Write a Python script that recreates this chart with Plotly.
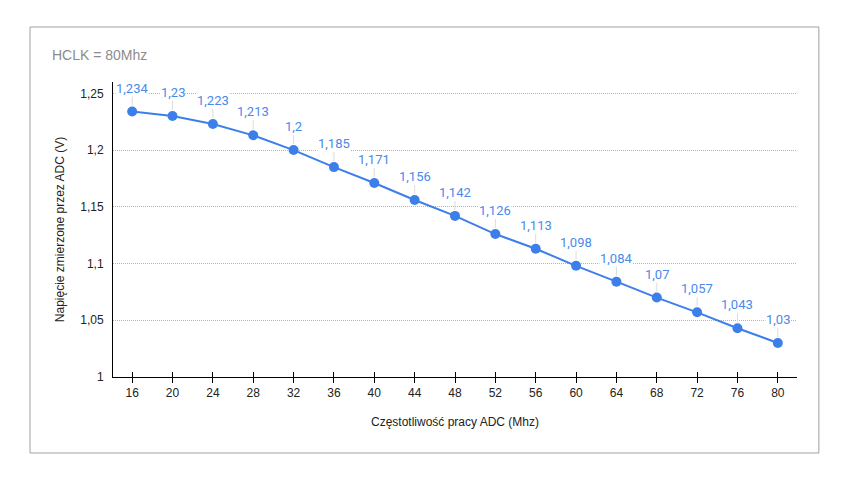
import plotly.graph_objects as go

freq = [16, 20, 24, 28, 32, 36, 40, 44, 48, 52, 56, 60, 64, 68, 72, 76, 80]
voltage = [1.234, 1.23, 1.223, 1.213, 1.2, 1.185, 1.171, 1.156, 1.142, 1.126,
           1.113, 1.098, 1.084, 1.07, 1.057, 1.043, 1.03]
y_ticks = [1, 1.05, 1.1, 1.15, 1.2, 1.25]
title_text = "HCLK = 80Mhz"
x_title = "Częstotliwość pracy ADC (Mhz)"
y_title = "Napięcie zmierzone przez ADC (V)"

blue = "#3d7fea"
label_blue = "#4a89ec"

fig = go.Figure()
fig.add_trace(go.Scatter(
    x=freq, y=voltage, mode="lines+markers",
    line=dict(color=blue, width=2),
    marker=dict(color=blue, size=10),
    hoverinfo="skip", showlegend=False,
))
# invisible trace for the overlaid axis (inside tick marks)
fig.add_trace(go.Scatter(x=freq, y=voltage, xaxis="x2", mode="none",
                         showlegend=False, hoverinfo="skip"))

for xv, yv in zip(freq, voltage):
    fig.add_annotation(
        x=xv, y=yv, text=f"{yv:g}".replace(".", ","),
        showarrow=True, arrowhead=0, arrowwidth=1, arrowcolor="#dcdcdc",
        ax=0, ay=-15, yanchor="bottom", standoff=6,
        font=dict(family="Roboto, sans-serif", size=13, color=label_blue),
        bgcolor="white", borderpad=0,
    )

fig.add_shape(type="rect", xref="paper", yref="paper",
              x0=-0.1213, x1=1.032, y0=-0.2576, y1=1.1864,
              line=dict(color="#a49ca6", width=1), layer="below")

fig.update_layout(
    width=844, height=477,
    margin=dict(l=113, r=47, t=82, b=100),
    paper_bgcolor="white", plot_bgcolor="white",
    separators=", ",
    font=dict(family="Liberation Sans, Arial, sans-serif", size=12, color="#222"),
    title=dict(text=title_text, x=52/844, xanchor="left", y=1-55/477, yanchor="middle",
               font=dict(family="Liberation Sans, Arial, sans-serif", size=14, color="#8c8c8c")),
    xaxis=dict(
        range=[14.1, 81.9], tickvals=freq, ticks="outside", ticklen=5, tickcolor="#000",
        showline=True, linecolor="#000", linewidth=1, showgrid=False, zeroline=False,
        title=dict(text=x_title, standoff=18, font=dict(size=12, color="#222")),
        tickfont=dict(size=12, color="#222"),
    ),
    xaxis2=dict(
        range=[14.1, 81.9], tickvals=freq, ticks="inside", ticklen=5, tickcolor="#000",
        overlaying="x", anchor="y", showticklabels=False, showgrid=False, zeroline=False,
        showline=False,
    ),
    yaxis=dict(
        range=[1, 1.26], tickvals=y_ticks, showline=True, linecolor="#000", linewidth=1,
        showgrid=True, gridcolor="#b8b0ba", gridwidth=1, griddash="1px,1px", zeroline=False,
        ticks="", ticklabelstandoff=6,
        title=dict(text=y_title, standoff=13, font=dict(size=12, color="#222")),
        tickfont=dict(size=12, color="#222"),
    ),
)

fig.write_html("out.html")
